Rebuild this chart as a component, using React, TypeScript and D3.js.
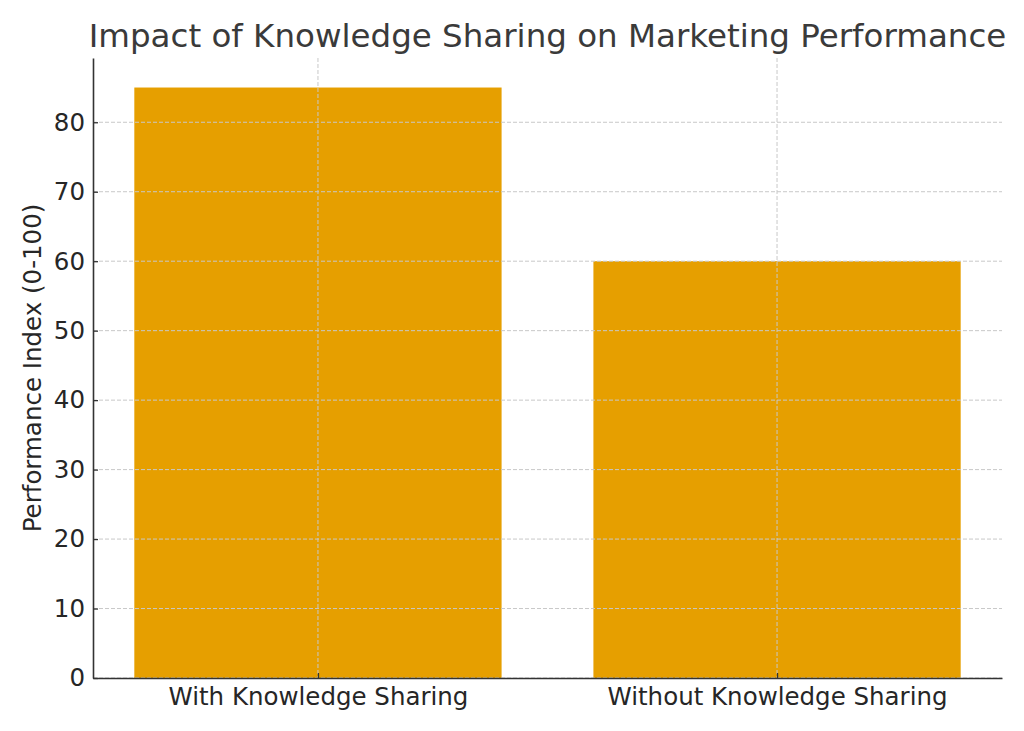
import React, { useEffect, useRef } from 'react';
import * as d3 from 'd3';

const categories = ['With Knowledge Sharing', 'Without Knowledge Sharing'];
const performance = [85, 60];
const yTicks = [0, 10, 20, 30, 40, 50, 60, 70, 80];

const TITLE = 'Impact of Knowledge Sharing on Marketing Performance';
const Y_LABEL = 'Performance Index (0-100)';

const App: React.FC = () => {
    const svgRef = useRef<SVGSVGElement>(null);
    const width = 1024;
    const height = 731;

    useEffect(() => {
        if (!svgRef.current) return;
        const svg = d3.select(svgRef.current);
        svg.selectAll('*').remove();

        const margin = { top: 58, right: 22, bottom: 53, left: 93 };
        const innerWidth = width - margin.left - margin.right;
        const innerHeight = height - margin.top - margin.bottom;
        const font = "'DejaVu Sans', sans-serif";

        const g = svg.append('g')
            .attr('transform', `translate(${margin.left},${margin.top})`);

        // matplotlib-like limits: bars width 0.8, 5% margins
        const x = d3.scaleLinear().domain([-0.49, 1.49]).range([0, innerWidth]);
        const yMax = (d3.max(performance) || 100) * 1.05;
        const y = d3.scaleLinear().domain([0, yMax]).range([innerHeight, 0]);
        const barWidth = 0.8;

        // Bars
        g.selectAll('rect.bar')
            .data(performance)
            .enter()
            .append('rect')
            .attr('class', 'bar')
            .attr('x', (_d, i) => x(i - barWidth / 2))
            .attr('width', x(barWidth) - x(0))
            .attr('y', d => y(d))
            .attr('height', d => innerHeight - y(d))
            .attr('fill', '#E69F00');

        // Grid (drawn on top of bars)
        g.selectAll('line.hgrid')
            .data(yTicks)
            .enter()
            .append('line')
            .attr('x1', 0)
            .attr('x2', innerWidth)
            .attr('y1', d => y(d))
            .attr('y2', d => y(d))
            .attr('stroke', '#c8c8c8')
            .attr('stroke-width', 1)
            .attr('stroke-dasharray', '4,2');

        g.selectAll('line.vgrid')
            .data(categories)
            .enter()
            .append('line')
            .attr('x1', (_d, i) => x(i))
            .attr('x2', (_d, i) => x(i))
            .attr('y1', 0)
            .attr('y2', innerHeight)
            .attr('stroke', '#c8c8c8')
            .attr('stroke-width', 1)
            .attr('stroke-dasharray', '4,2');

        // Y axis (ticks inside)
        const yAxis = g.append('g')
            .call(d3.axisLeft(y).tickValues(yTicks).tickSizeInner(-5).tickSizeOuter(0).tickPadding(8));
        yAxis.select('.domain').attr('stroke', '#333').attr('stroke-width', 1.6);
        yAxis.selectAll('.tick line').attr('stroke', '#333').attr('stroke-width', 1.3);
        yAxis.selectAll('.tick text')
            .attr('fill', '#262626')
            .style('font-family', font)
            .style('font-size', '24.5px');

        // X axis (ticks inside)
        const xAxis = g.append('g')
            .attr('transform', `translate(0,${innerHeight})`)
            .call(d3.axisBottom(x).tickValues(categories.map((_c, i) => i))
                .tickFormat((_d, i) => categories[i])
                .tickSizeInner(-5).tickSizeOuter(0).tickPadding(10));
        xAxis.select('.domain').attr('stroke', '#333').attr('stroke-width', 1.6);
        xAxis.selectAll('.tick line').attr('stroke', '#333').attr('stroke-width', 1.3);
        xAxis.selectAll('.tick text')
            .attr('fill', '#262626')
            .style('font-family', font)
            .style('font-size', '24.5px');

        // Title
        svg.append('text')
            .attr('x', margin.left + innerWidth / 2)
            .attr('y', 47)
            .attr('text-anchor', 'middle')
            .attr('fill', '#3a3a3a')
            .style('font-family', font)
            .style('font-size', '32.5px')
            .text(TITLE);

        // Y label
        svg.append('text')
            .attr('transform', `translate(41,${margin.top + innerHeight / 2}) rotate(-90)`)
            .attr('text-anchor', 'middle')
            .attr('fill', '#262626')
            .style('font-family', font)
            .style('font-size', '24.5px')
            .text(Y_LABEL);
    }, []);

    return (
        <svg
            ref={svgRef}
            width={width}
            height={height}
            style={{ position: 'absolute', left: 0, top: 0, background: '#fff' }}
        />
    );
};

export default App;
